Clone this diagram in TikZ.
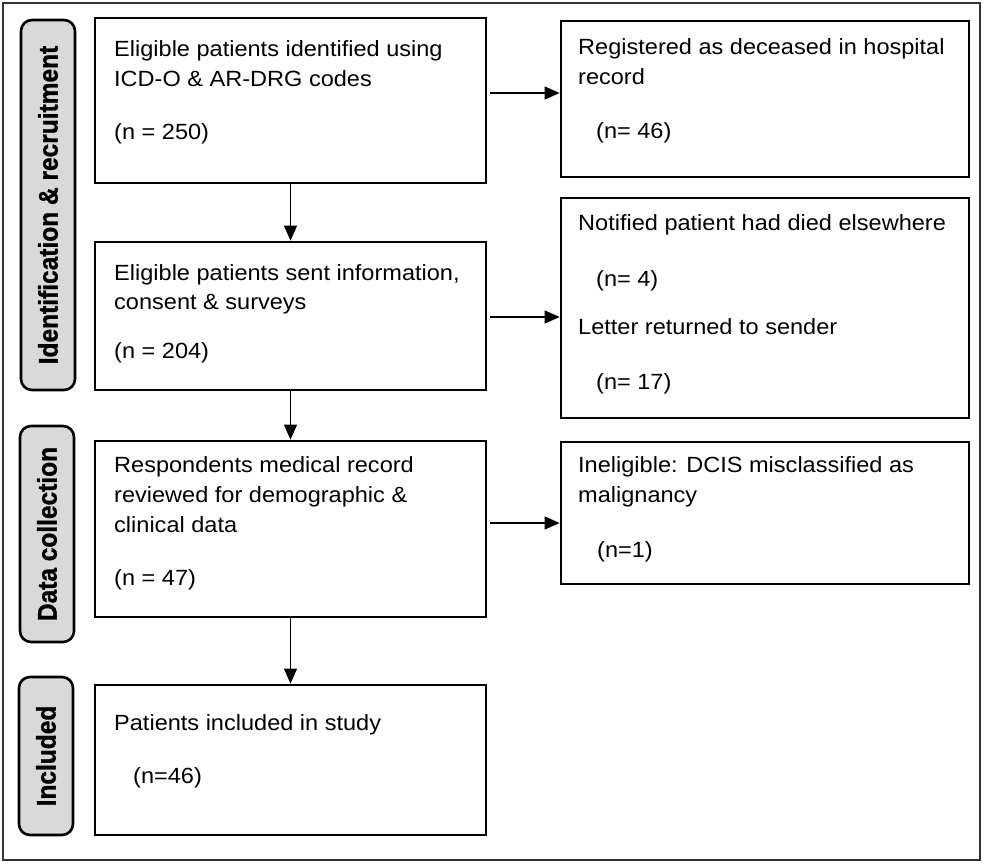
\documentclass[tikz,border=0pt]{standalone}
\usepackage{fontspec}
\setmainfont{Liberation Sans}[FakeStretch=1.07]
\newfontfamily\labfont{Liberation Sans Bold}[FakeBold=1.2]
\usetikzlibrary{arrows.meta}
\newcommand\Tline[4]{\node[txt] (#1) at (#2,#3) {#4};}
\begin{document}
\begin{tikzpicture}[x=1pt,y=-1pt,
  box/.style={draw=black, line width=2.8pt, fill=white, inner sep=0pt},
  lab/.style={draw=black, line width=2.6pt, fill=black!15, rounded corners=11pt, inner sep=0pt, minimum width=54pt},
  txt/.style={anchor=base west, inner sep=0pt, font=\fontsize{22}{30}\selectfont},
  labtxt/.style={rotate=90, inner sep=0pt, font=\labfont\fontsize{24.5}{28}\selectfont},
  arr/.style={line width=1.2pt, -{Triangle[length=15pt,width=13pt]}}]
\useasboundingbox (0,0) rectangle (986,865);
\draw[line width=2pt, black!80] (3,3) rectangle (980,860);

% side labels
\node[lab, minimum height=370pt] (L1) at (48,205) {};
\node[labtxt] (L1t) at (L1) {\scalebox{1}[1.1]{Identification \& recruitment}};
\node[lab, minimum height=216pt] (L2) at (47,534) {};
\node[labtxt] (L2t) at (L2) {\scalebox{1}[1.1]{Data collection}};
\node[lab, minimum height=158pt] (L3) at (46,756) {};
\node[labtxt] (L3t) at (L3) {\scalebox{1}[1.1]{Included}};

% main boxes
\node[box, minimum width=391pt, minimum height=165pt] (A) at (290.5,100.5) {};
\node[box, minimum width=391pt, minimum height=148pt] (B) at (290.5,316) {};
\node[box, minimum width=391pt, minimum height=176pt] (C) at (290.5,529) {};
\node[box, minimum width=391pt, minimum height=150pt] (D) at (290.5,760) {};
\node[box, minimum width=408pt, minimum height=156pt] (R1) at (765,99) {};
\node[box, minimum width=408pt, minimum height=220pt] (R2) at (765,308) {};
\node[box, minimum width=408pt, minimum height=142pt] (R3) at (765,513) {};

% texts
\Tline{a1}{114}{56}{Eligible patients identified using}
\Tline{a2}{114}{86}{ICD-O \& AR-DRG codes}
\Tline{a3}{114}{139}{(n = 250)}
\Tline{b1}{114}{280}{Eligible patients sent information,}
\Tline{b2}{114}{309}{consent \& surveys}
\Tline{b3}{114}{358}{(n = 204)}
\Tline{c1}{114}{472}{Respondents medical record}
\Tline{c2}{114}{502}{reviewed for demographic \&}
\Tline{c3}{114}{532}{clinical data}
\Tline{c4}{114}{585}{(n = 47)}
\Tline{d1}{114}{730}{Patients included in study}
\Tline{d2}{133}{783}{(n=46)}
\Tline{r11}{578}{54}{Registered as deceased in hospital}
\Tline{r12}{578}{84}{record}
\Tline{r13}{596}{138}{(n= 46)}
\Tline{r21}{578}{230}{Notified patient had died elsewhere}
\Tline{r22}{596}{286}{(n= 4)}
\Tline{r23}{578}{334}{Letter returned to sender}
\Tline{r24}{596}{389}{(n= 17)}
\Tline{r31}{578}{472}{Ineligible: DCIS misclassified as}
\Tline{r32}{578}{502}{malignancy}
\Tline{r33}{597}{557}{(n=1)}

% arrows
\draw[arr] (A.south) -- (B.north);
\draw[arr] (B.south) -- (C.north);
\draw[arr] (C.south) -- (D.north);
\coordinate (s1) at (490,93);
\coordinate (s2) at (490,317);
\coordinate (s3) at (490,523);
\draw[arr] (s1) -- (R1.west |- s1);
\draw[arr] (s2) -- (R2.west |- s2);
\draw[arr] (s3) -- (R3.west |- s3);
\end{tikzpicture}
\end{document}
